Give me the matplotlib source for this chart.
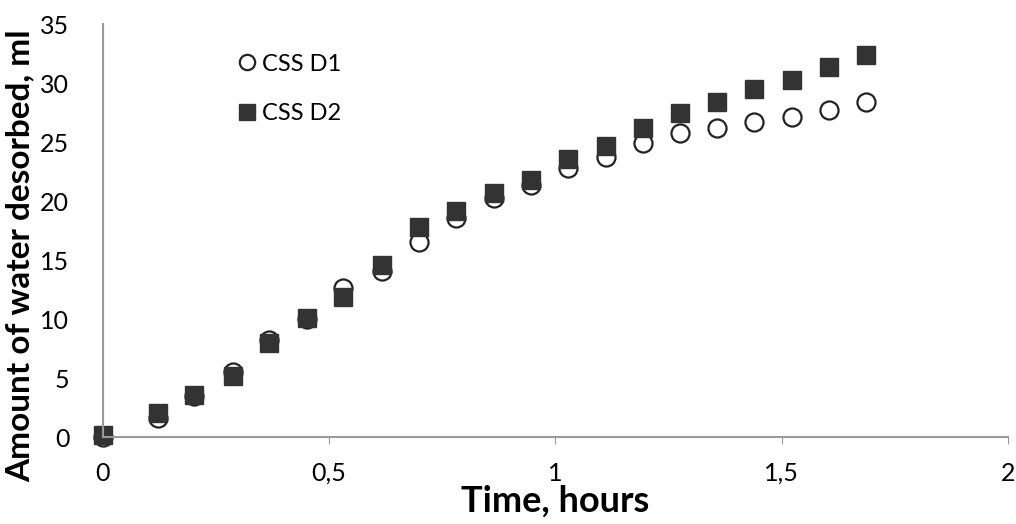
import matplotlib.pyplot as plt
from matplotlib.ticker import FuncFormatter

plt.rcParams['font.family'] = ['Lato', 'DejaVu Sans']

# time, hours
t = [0, 0.123, 0.201, 0.287, 0.368, 0.451, 0.532, 0.617, 0.700, 0.781, 0.864,
     0.947, 1.028, 1.112, 1.193, 1.276, 1.357, 1.440, 1.523, 1.604, 1.687]
# amount of water desorbed, ml
d1 = [0.0, 1.6, 3.5, 5.5, 8.2, 10.0, 12.6, 14.1, 16.5, 18.6, 20.3,
      21.4, 22.8, 23.7, 24.9, 25.8, 26.2, 26.7, 27.1, 27.7, 28.4]
d2 = [0.2, 2.0, 3.6, 5.2, 8.0, 10.1, 11.9, 14.6, 17.8, 19.2, 20.7,
      21.8, 23.6, 24.7, 26.2, 27.5, 28.4, 29.5, 30.3, 31.4, 32.4]

fig = plt.figure(figsize=(10.16, 5.24), dpi=100)
ax = fig.add_axes([0.101, 0.166, 0.891, 0.788])

ax.plot(t, d1, 'o', ms=13, mfc='white', mec='#222222', mew=1.6, label='CSS D1', clip_on=False)
ax.plot(t, d2, 's', ms=13, mfc='#333333', mec='#333333', label='CSS D2', clip_on=False)

ax.set_xlim(0, 2)
ax.set_ylim(0, 35)
ax.set_xticks([0, 0.5, 1, 1.5, 2])
ax.set_yticks(range(0, 36, 5))
ax.xaxis.set_major_formatter(FuncFormatter(lambda v, p: ('%g' % v).replace('.', ',')))
ax.tick_params(axis='x', length=5, color='#999999', pad=13, labelsize=18)
ax.tick_params(axis='y', length=0, pad=24, labelsize=18)

for s in ['top', 'right']:
    ax.spines[s].set_visible(False)
for s in ['left', 'bottom']:
    ax.spines[s].set_color('#999999')
    ax.spines[s].set_linewidth(1.5)

ax.set_xlabel('Time, hours', fontsize=26, fontweight='bold')
ax.xaxis.set_label_coords(0.5, -0.115)
ax.set_ylabel('Amount of water desorbed, ml', fontsize=24, fontweight='bold')
ax.yaxis.set_label_coords(-0.075, 0.44)

ax.legend(loc='upper left', bbox_to_anchor=(0.211, 0.938), bbox_transform=fig.transFigure,
          frameon=False, fontsize=17, markerscale=0.85, handletextpad=0.1,
          handlelength=1.0, labelspacing=1.2)

fig.savefig('out.png', dpi=100)
